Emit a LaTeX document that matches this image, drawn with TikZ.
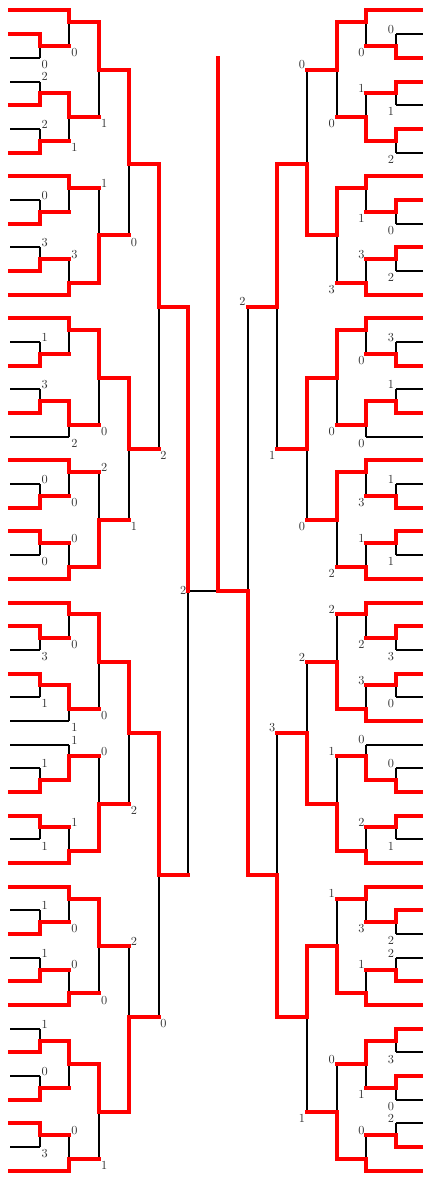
\documentclass[tikz,border=0pt]{standalone}
\pgfdeclarelayer{back}
\pgfsetlayers{back,main}
\begin{document}
\begin{tikzpicture}[x=0.03cm, y=-0.03cm,
    declare function={cx(\c)=10+29.7*\c; ry(\k)=10.5+23.68*(\k-1);},
    winline/.style={red, line width=0.12cm, line cap=rect},
    loseline/.style={black, line width=0.06cm},
    score/.style={text=black!80, font=\fontsize{10.5}{12}\selectfont, inner xsep=1.5pt},
    topscore/.style={score, inner ysep=0.3pt},
    botscore/.style={score, inner ysep=2pt}]
    % Picture window (pixels of the sheet)
    \useasboundingbox (0,0) rectangle (423,1180);

    % One match: column, winner row, loser row, output row, score, index
    \def\leftmatch#1#2#3#4#5#6{%
        \begin{pgfonlayer}{back}
            \draw[loseline] ({cx(#1)},{ry(#2)}) -- ({cx(#1)},{ry(#3)});
        \end{pgfonlayer}
        \draw[winline] ({cx(#1)},{ry(#2)}) -- ({cx(#1)},{ry(#4)}) -- ({cx(#1+1)},{ry(#4)});
        \ifdim#3pt<#2pt
            \node[topscore, anchor=south west] (lscore#6) at ({cx(#1)},{ry(#3)}) {#5};
        \else
            \node[botscore, anchor=north west] (lscore#6) at ({cx(#1)},{ry(#3)}) {#5};
        \fi}
    \def\rightmatch#1#2#3#4#5#6{%
        \begin{pgfonlayer}{back}
            \draw[loseline] ({cx(#1)},{ry(#2)}) -- ({cx(#1)},{ry(#3)});
        \end{pgfonlayer}
        \draw[winline] ({cx(#1)},{ry(#2)}) -- ({cx(#1)},{ry(#4)}) -- ({cx(#1-1)},{ry(#4)});
        \ifdim#3pt<#2pt
            \node[topscore, anchor=south east] (rscore#6) at ({cx(#1)},{ry(#3)}) {#5};
        \else
            \node[botscore, anchor=north east] (rscore#6) at ({cx(#1)},{ry(#3)}) {#5};
        \fi}

    % Left entries (row/length)
    \foreach \k/\n in {1/2, 2/1, 5/1, 7/1, 8/2, 10/1, 12/1, 13/2, 14/2, 16/1,
        18/1, 20/2, 22/1, 23/1, 25/2, 26/2, 27/1, 29/1, 34/1, 35/1, 37/2,
        38/2, 40/1, 42/1, 43/2, 45/1, 47/1, 48/1, 50/2}
        \draw[winline] ({cx(0)},{ry(\k)}) -- ({cx(\n)},{ry(\k)});
    \begin{pgfonlayer}{back}
        \foreach \k/\n in {3/1, 4/1, 6/1, 9/1, 11/1, 15/1, 17/1, 19/2, 21/1,
            24/1, 28/1, 30/1, 31/2, 32/2, 33/1, 36/1, 39/1, 41/1, 44/1, 46/1, 49/1}
            \draw[loseline] ({cx(0)},{ry(\k)}) -- ({cx(\n)},{ry(\k)});
    \end{pgfonlayer}

    % Right entries (row/length)
    \foreach \k/\n in {1/2, 3/1, 4/1, 6/1, 8/2, 9/1, 11/1, 13/2, 14/2, 16/1,
        18/1, 20/2, 22/1, 23/1, 25/2, 26/2, 27/1, 29/1, 31/2, 34/1, 35/1,
        37/2, 38/2, 39/1, 42/1, 43/2, 44/1, 46/1, 49/1, 50/2}
        \draw[winline] ({cx(14)},{ry(\k)}) -- ({cx(14-\n)},{ry(\k)});
    \begin{pgfonlayer}{back}
        \foreach \k/\n in {2/1, 5/1, 7/1, 10/1, 12/1, 15/1, 17/1, 19/2, 21/1,
            24/1, 28/1, 30/1, 32/2, 33/1, 36/1, 40/1, 41/1, 45/1, 47/1, 48/1}
            \draw[loseline] ({cx(14)},{ry(\k)}) -- ({cx(14-\n)},{ry(\k)});
    \end{pgfonlayer}

    % Left half
    \foreach \col/\win/\lose/\out/\sc [count=\i] in {
        1/2/3/2.5/0, 2/1/2.5/1.5/0, 1/5/4/4.5/2, 1/7/6/6.5/2, 2/4.5/6.5/5.5/1,
        3/1.5/5.5/3.5/1, 1/10/9/9.5/0, 2/8/9.5/8.5/{}, 1/12/11/11.5/3,
        2/13/11.5/12.5/3, 3/12.5/8.5/10.5/1, 4/3.5/10.5/7.5/0,
        1/16/15/15.5/1, 2/14/15.5/14.5/{}, 1/18/17/17.5/3, 2/17.5/19/18.5/2,
        3/14.5/18.5/16.5/0, 1/22/21/21.5/0, 2/20/21.5/20.5/0, 1/23/24/23.5/0,
        2/25/23.5/24.5/0, 3/24.5/20.5/22.5/2, 4/16.5/22.5/19.5/1, 5/7.5/19.5/13.5/2,
        1/27/28/27.5/3, 2/26/27.5/26.5/0, 1/29/30/29.5/1, 2/29.5/31/30.5/1,
        3/26.5/30.5/28.5/0, 1/34/33/33.5/1, 2/33.5/32/32.5/1, 1/35/36/35.5/1,
        2/37/35.5/36.5/1, 3/36.5/32.5/34.5/0, 4/28.5/34.5/31.5/2,
        1/40/39/39.5/1, 2/38/39.5/38.5/0, 1/42/41/41.5/1, 2/43/41.5/42.5/0,
        3/38.5/42.5/40.5/0, 1/45/44/44.5/1, 1/47/46/46.5/0, 2/44.5/46.5/45.5/{},
        1/48/49/48.5/3, 2/50/48.5/49.5/0, 3/45.5/49.5/47.5/1, 4/47.5/40.5/43.5/2,
        5/31.5/43.5/37.5/0}
        \leftmatch{\col}{\win}{\lose}{\out}{\sc}{\i};

    % Right half
    \foreach \col/\win/\lose/\out/\sc [count=\i] in {
        13/3/2/2.5/0, 12/1/2.5/1.5/0, 13/4/5/4.5/1, 13/6/7/6.5/2, 12/6.5/4.5/5.5/1,
        11/1.5/5.5/3.5/0, 13/9/10/9.5/0, 12/8/9.5/8.5/1, 13/11/12/11.5/2,
        12/13/11.5/12.5/3, 11/8.5/12.5/10.5/3, 10/10.5/3.5/7.5/0,
        13/16/15/15.5/3, 12/14/15.5/14.5/0, 13/18/17/17.5/1, 12/17.5/19/18.5/0,
        11/14.5/18.5/16.5/0, 13/22/21/21.5/1, 12/20/21.5/20.5/3, 13/23/24/23.5/1,
        12/25/23.5/24.5/1, 11/20.5/24.5/22.5/2, 10/16.5/22.5/19.5/0, 9/7.5/19.5/13.5/1,
        13/27/28/27.5/3, 12/26/27.5/26.5/2, 13/29/30/29.5/0, 12/31/29.5/30.5/3,
        11/30.5/26.5/28.5/2, 13/34/33/33.5/0, 12/33.5/32/32.5/0, 13/35/36/35.5/1,
        12/37/35.5/36.5/2, 11/36.5/32.5/34.5/1, 10/34.5/28.5/31.5/2,
        13/39/40/39.5/2, 12/38/39.5/38.5/3, 13/42/41/41.5/2, 12/43/41.5/42.5/1,
        11/42.5/38.5/40.5/1, 13/44/45/44.5/3, 13/46/47/46.5/0, 12/44.5/46.5/45.5/1,
        13/49/48/48.5/2, 12/50/48.5/49.5/0, 11/49.5/45.5/47.5/0, 10/40.5/47.5/43.5/1,
        9/43.5/31.5/37.5/3, 8/37.5/13.5/25.5/2}
        \rightmatch{\col}{\win}{\lose}{\out}{\sc}{\i};

    % Final
    \begin{pgfonlayer}{back}
        \draw[loseline] ({cx(6)},{ry(13.5)}) -- ({cx(6)},{ry(37.5)});
        \draw[loseline] ({cx(6)},{ry(25.5)}) -- ({cx(7)},{ry(25.5)});
    \end{pgfonlayer}
    \draw[winline] ({cx(6)},{ry(13.5)}) -- ({cx(6)},{ry(25.5)});
    \node[score, left] (finalscore) at ({cx(6)},{ry(25.5)}) {2};
    \draw[winline] ({cx(7)},{ry(25.5)}) -- ({cx(7)},{ry(3)});
\end{tikzpicture}
\end{document}
